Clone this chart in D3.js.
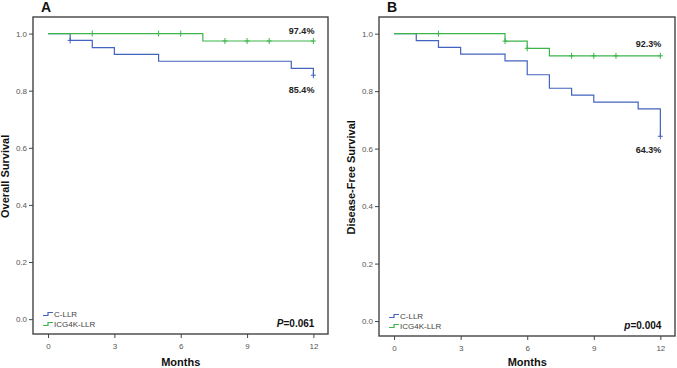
<!DOCTYPE html>
<html>
<head>
<meta charset="utf-8">
<script src="https://cdn.jsdelivr.net/npm/d3@7"></script>
<style>
  body { margin: 0; background: #fff; }
  text { font-family: "Liberation Sans", Arial, sans-serif; }
</style>
</head>
<body>
<script>
var monthTicks = [0, 3, 6, 9, 12];
var survTicks = [0.0, 0.2, 0.4, 0.6, 0.8, 1.0];
var groups = ["C-LLR", "ICG4K-LLR"];

// overall survival
var osCllrTime = [0, 1, 2, 3, 5, 11, 12];
var osCllrSurv = [1, 0.976, 0.951, 0.927, 0.903, 0.878, 0.854];
var osCllrCensor = [1, 12];
var osIcgTime = [0, 7, 12];
var osIcgSurv = [1, 0.974, 0.974];
var osIcgCensor = [2, 5, 6, 8, 9, 10, 12];

// disease-free survival
var dfsCllrTime = [0, 1, 2, 3, 5, 6, 7, 8, 9, 11, 12];
var dfsCllrSurv = [1, 0.976, 0.952, 0.929, 0.905, 0.857, 0.810, 0.786, 0.762, 0.738, 0.643];
var dfsCllrCensor = [12];
var dfsIcgTime = [0, 5, 6, 7, 12];
var dfsIcgSurv = [1, 0.974, 0.949, 0.923, 0.923];
var dfsIcgCensor = [2, 5, 6, 8, 9, 10, 12];

var blue = "#4363bf", green = "#3db54b";

var svg = d3.select("body").append("svg")
    .attr("width", 677)
    .attr("height", 368);

function stepValue(times, surv, t) {
  var v = surv[0];
  times.forEach(function(d, i) { if (d <= t) v = surv[i]; });
  return v;
}

function panel(p) {
  var x = d3.scaleLinear().domain([-0.68, 12.66]).range([p.left, p.right]);
  var y = d3.scaleLinear().domain([-0.052, 1.058]).range([p.bottom, 17]);
  var g = svg.append("g");

  // axes ticks
  var ya = g.append("g")
      .attr("transform", "translate(" + p.left + ",0)")
      .call(d3.axisLeft(y).tickValues(survTicks).tickFormat(d3.format(".1f")).tickSize(4).tickPadding(2));
  var xa = g.append("g")
      .attr("transform", "translate(0," + p.bottom + ")")
      .call(d3.axisBottom(x).tickValues(monthTicks).tickSize(4).tickPadding(5));
  [ya, xa].forEach(function(a) {
    a.select(".domain").remove();
    a.selectAll("line").attr("stroke", "#444");
    a.selectAll("text").attr("fill", "#555").style("font-size", "8px");
  });

  g.append("rect")
      .attr("x", p.left).attr("y", 17)
      .attr("width", p.right - p.left).attr("height", p.bottom - 17)
      .attr("fill", "none").attr("stroke", "#444").attr("stroke-width", 1.4);

  var line = d3.line()
      .x(function(d) { return x(d[0]); })
      .y(function(d) { return y(d[1]); })
      .curve(d3.curveStepAfter);

  p.series.forEach(function(s) {
    g.append("path")
        .datum(d3.zip(s.time, s.surv))
        .attr("fill", "none")
        .attr("stroke", s.color)
        .attr("stroke-width", 1.2)
        .attr("d", line);
    // censor marks drawn as small crosses
    g.selectAll(null).data(s.censor).enter().append("path")
        .attr("d", function(d) {
          var cx = x(d), cy = y(stepValue(s.time, s.surv, d));
          return "M" + cx + "," + (cy - 3) + "v6M" + (cx - 2.5) + "," + cy + "h5";
        })
        .attr("fill", "none")
        .attr("stroke", s.color)
        .attr("stroke-width", 1);
    g.append("text")
        .attr("x", x(12) + 1)
        .attr("y", y(s.surv[s.surv.length - 1]) + s.labelDy)
        .attr("text-anchor", "end")
        .attr("fill", "#222")
        .style("font-size", "9px")
        .style("font-weight", "bold")
        .text((s.surv[s.surv.length - 1] * 100).toFixed(1) + "%");
  });

  // legend
  p.series.forEach(function(s, i) {
    var ly = p.bottom - 20 + i * 10;
    var lx = p.left + 10;
    g.append("path")
        .attr("d", "M" + lx + "," + (ly + 1.5) + "h5v-3h5")
        .attr("fill", "none").attr("stroke", s.color).attr("stroke-width", 1.2);
    g.append("text")
        .attr("x", lx + 11).attr("y", ly + 3)
        .attr("fill", "#444")
        .style("font-size", "8px")
        .text(groups[i]);
  });

  var pt = g.append("text")
      .attr("x", x(12) + 1).attr("y", p.bottom - 7)
      .attr("text-anchor", "end")
      .attr("fill", "#111")
      .style("font-size", "10px")
      .style("font-weight", "bold");
  pt.append("tspan").style("font-style", "italic").text(p.pLetter);
  pt.append("tspan").text("=" + p.pValue);

  g.append("text")
      .attr("x", (x(0) + x(12)) / 2).attr("y", 366)
      .attr("text-anchor", "middle")
      .attr("fill", "#111")
      .style("font-size", "11px").style("font-weight", "bold")
      .text("Months");

  g.append("text")
      .attr("transform", "translate(" + p.titleX + "," + (y(0.5)) + ")rotate(-90)")
      .attr("text-anchor", "middle")
      .attr("fill", "#111")
      .style("font-size", "11px").style("font-weight", "bold")
      .text(p.yTitle);

  g.append("text")
      .attr("x", p.left + 8).attr("y", 12)
      .attr("fill", "#111")
      .style("font-size", "14px").style("font-weight", "bold")
      .text(p.letter);
}

panel({
  left: 33, right: 328, bottom: 334, titleX: 9,
  letter: "A", yTitle: "Overall Survival", pLetter: "P", pValue: "0.061",
  series: [
    {time: osCllrTime, surv: osCllrSurv, censor: osCllrCensor, color: blue, labelDy: 18},
    {time: osIcgTime, surv: osIcgSurv, censor: osIcgCensor, color: green, labelDy: -7}
  ]
});

panel({
  left: 379, right: 675, bottom: 336, titleX: 355,
  letter: "B", yTitle: "Disease-Free Survival", pLetter: "p", pValue: "0.004",
  series: [
    {time: dfsCllrTime, surv: dfsCllrSurv, censor: dfsCllrCensor, color: blue, labelDy: 17},
    {time: dfsIcgTime, surv: dfsIcgSurv, censor: dfsIcgCensor, color: green, labelDy: -9}
  ]
});
</script>
</body>
</html>
